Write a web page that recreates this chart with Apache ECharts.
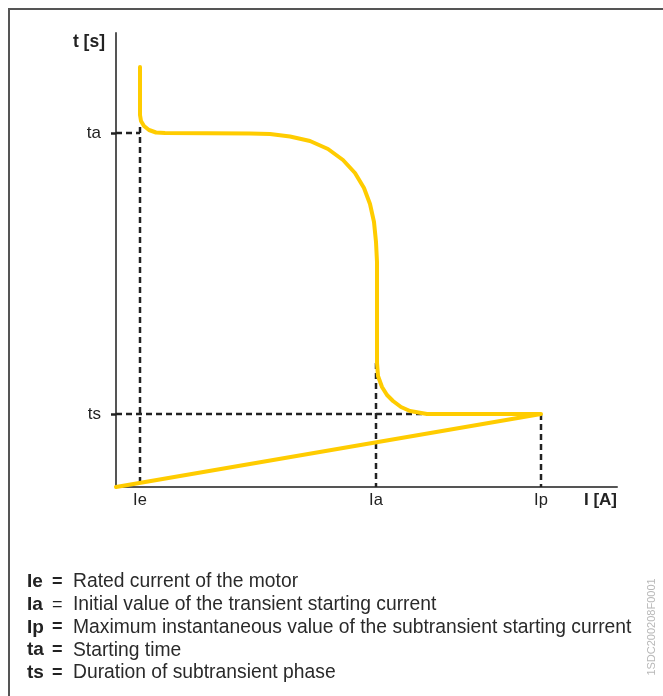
<!DOCTYPE html>
<html>
<head>
<meta charset="utf-8">
<script src="https://cdn.jsdelivr.net/npm/echarts@6/dist/echarts.min.js"></script>
<style>
  html, body { margin: 0; padding: 0; background: #fff; }
  #main { width: 663px; height: 696px; }
</style>
</head>
<body>
<div id="main"></div>
<script>
// axis units: arbitrary current / time units (no numeric scale in the source)
var xMax = 501;
var yMax = 454;

// marked currents and times
var xMarkNames = ['Ie', 'Ia', 'Ip'];
var xMarkValues = [24, 260, 425];
var yMarkNames = ['ts', 'ta'];
var yMarkValues = [73, 354];

// starting curve t(I)
var curveI = [24, 24, 25, 28, 33, 40, 49, 134, 154, 174, 194, 212, 227, 239, 248, 254, 258, 260, 261, 261, 262, 266, 271, 277, 285, 294, 311, 425, 0];
var curveT = [420, 372, 366, 361, 357, 354.5, 354, 353.5, 353, 350.5, 346, 338, 327, 314, 299, 283, 265, 245, 225, 124, 111, 100, 92, 86, 80, 76, 73, 73, 0];

// dashed guide lines [x1, y1, x2, y2]
var guides = [
  [0, 354, 24, 354],
  [24, 360, 24, 0],
  [0, 73, 425, 73],
  [260, 124, 260, 0],
  [425, 73, 425, 0]
];

var legendKeys = ['Ie', 'Ia', 'Ip', 'ta', 'ts'];
var legendTexts = [
  'Rated current of the motor',
  'Initial value of the transient starting current',
  'Maximum instantaneous value of the subtransient starting current',
  'Starting time',
  'Duration of subtransient phase'
];
var docCode = '1SDC200208F0001';

var FONT = '"Liberation Sans", Arial, sans-serif';
var TEXT = '#222';

var chart = echarts.init(document.getElementById('main'), null, { renderer: 'canvas' });

function markName(names, values) {
  return function (v) {
    var i = values.indexOf(v);
    return i >= 0 ? names[i] : '';
  };
}

var curveData = curveI.map(function (x, i) { return [x, curveT[i]]; });

var guideData = [];
guides.forEach(function (g) {
  guideData.push([g[0], g[1]], [g[2], g[3]], '-');
});

var graphics = [
  // frame
  {
    type: 'polyline',
    shape: { points: [[9, 696], [9, 9], [663, 9]] },
    style: { stroke: '#555', lineWidth: 2, fill: null },
    silent: true
  },
  {
    type: 'text',
    x: 652,
    y: 627,
    rotation: Math.PI / 2,
    style: {
      text: docCode,
      font: '11px ' + FONT,
      fill: '#b8b8b8',
      align: 'center',
      verticalAlign: 'middle'
    }
  }
];

legendKeys.forEach(function (k, i) {
  var y = 582 + i * 22.75;
  graphics.push({
    type: 'text',
    x: 27,
    y: y,
    style: { text: k, font: 'bold 19px ' + FONT, fill: TEXT, verticalAlign: 'middle' }
  });
  graphics.push({
    type: 'text',
    x: 52,
    y: y,
    style: { text: '=', font: (i === 1 ? '' : 'bold ') + '18px ' + FONT, fill: TEXT, verticalAlign: 'middle' }
  });
  graphics.push({
    type: 'text',
    x: 73,
    y: y,
    style: { text: legendTexts[i], font: '19.3px ' + FONT, fill: '#2a2a2a', verticalAlign: 'middle' }
  });
});

var option = {
  animation: false,
  backgroundColor: '#fff',
  grid: { left: 116, right: 46, top: 33, bottom: 209, containLabel: false },
  xAxis: {
    type: 'value',
    min: 0,
    max: xMax,
    name: 'I [A]',
    nameLocation: 'end',
    nameGap: 0,
    nameTextStyle: {
      fontFamily: FONT, fontWeight: 'bold', fontSize: 17, color: TEXT,
      align: 'right', verticalAlign: 'top', padding: [5, 0, 0, 0]
    },
    axisLine: { lineStyle: { color: '#555', width: 2 } },
    axisTick: { show: false },
    splitLine: { show: false },
    axisLabel: {
      customValues: xMarkValues,
      formatter: markName(xMarkNames, xMarkValues),
      fontFamily: FONT, fontSize: 16.5, color: TEXT, margin: 5
    }
  },
  yAxis: {
    type: 'value',
    min: 0,
    max: yMax,
    name: 't [s]',
    nameLocation: 'end',
    nameGap: -9,
    nameTextStyle: {
      fontFamily: FONT, fontWeight: 'bold', fontSize: 17.5, color: TEXT,
      align: 'right', verticalAlign: 'middle', padding: [0, 11, 0, 0]
    },
    axisLine: { show: true, lineStyle: { color: '#555', width: 2 } },
    axisTick: {
      show: true,
      customValues: yMarkValues,
      length: 8,
      lineStyle: { color: TEXT, width: 2.5, type: [5, 4] }
    },
    splitLine: { show: false },
    axisLabel: {
      customValues: yMarkValues,
      formatter: markName(yMarkNames, yMarkValues),
      fontFamily: FONT, fontSize: 17, color: TEXT, margin: 15
    }
  },
  series: [
    {
      name: 'guides',
      type: 'line',
      data: guideData,
      connectNulls: false,
      symbol: 'none',
      silent: true,
      z: 1,
      lineStyle: { color: TEXT, width: 2.5, type: [6, 4] }
    },
    {
      name: 'starting curve',
      type: 'line',
      data: curveData,
      symbol: 'none',
      smooth: false,
      z: 3,
      lineStyle: { color: '#FFCC00', width: 4, join: 'round', cap: 'round' }
    }
  ],
  graphic: graphics
};

chart.setOption(option);
</script>
</body>
</html>
